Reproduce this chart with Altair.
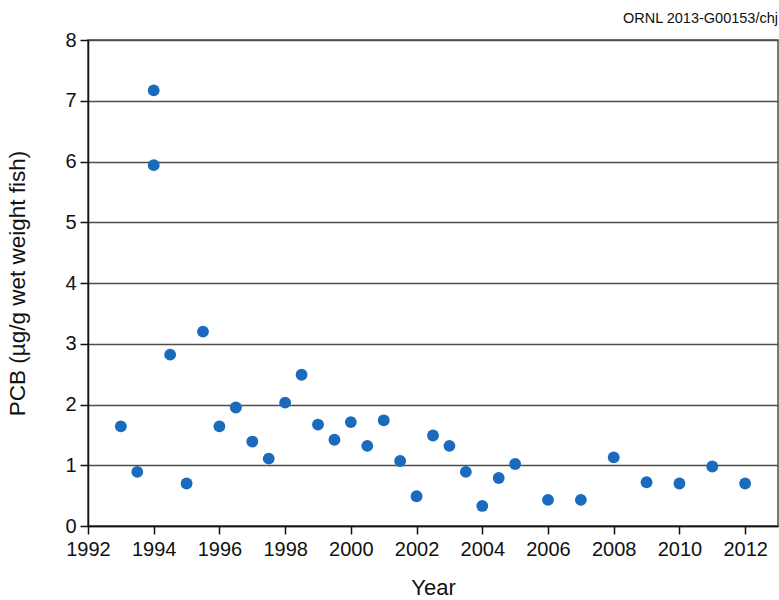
import altair as alt
import pandas as pd

years = [1993, 1993.5, 1994, 1994, 1994.5, 1995, 1995.5, 1996, 1996.5, 1997, 1997.5,
         1998, 1998.5, 1999, 1999.5, 2000, 2000.5, 2001, 2001.5, 2002, 2002.5, 2003,
         2003.5, 2004, 2004.5, 2005, 2006, 2007, 2008, 2009, 2010, 2011, 2012]
pcb = [1.64, 0.89, 7.17, 5.94, 2.82, 0.70, 3.20, 1.64, 1.95, 1.39, 1.11,
       2.03, 2.49, 1.67, 1.42, 1.71, 1.32, 1.74, 1.07, 0.49, 1.49, 1.32,
       0.89, 0.33, 0.79, 1.02, 0.43, 0.43, 1.13, 0.72, 0.70, 0.98, 0.70]

x_ticks = list(range(1992, 2013, 2))
y_ticks = list(range(0, 9))

df = pd.DataFrame({"Year": years, "PCB": pcb})

FONT = "Liberation Sans"

chart = alt.Chart(df).mark_circle(size=140, opacity=1, color="#1a6bbd").encode(
    x=alt.X("Year:Q",
            scale=alt.Scale(domain=[1992, 2013], nice=False, zero=False),
            axis=alt.Axis(values=x_ticks, format="d", grid=False, title="Year",
                          tickSize=8, labelPadding=5, titlePadding=18,
                          labelFontSize=20, titleFontSize=22, labelColor="#111",
                          titleColor="#111", domainColor="#111", tickColor="#111",
                          domainWidth=1.5, tickWidth=1.5, titleFontWeight="normal",
                          labelFont=FONT, titleFont=FONT, labelFlush=False)),
    y=alt.Y("PCB:Q",
            scale=alt.Scale(domain=[0, 8], nice=False),
            axis=alt.Axis(values=y_ticks, grid=True, gridColor="#4d4d4d", gridWidth=1.5,
                          title="PCB (µg/g wet weight fish)",
                          tickSize=8, labelPadding=4, titlePadding=35,
                          labelFontSize=20, titleFontSize=22.5, labelColor="#111",
                          titleColor="#111", domainColor="#111", tickColor="#111",
                          domainWidth=1.5, tickWidth=1.5, titleFontWeight="normal",
                          labelFont=FONT, titleFont=FONT)),
).properties(
    width=690,
    height=486,
    padding={"left": 88, "top": 40, "right": 1, "bottom": 74},
    autosize=alt.AutoSizeParams(type="none"),
    title=alt.TitleParams("ORNL 2013-G00153/chj", anchor="end", fontSize=14.5,
                          font=FONT, fontWeight="normal", color="#111", offset=4),
).configure_view(
    stroke="#4d4d4d", strokeWidth=1.5
)

chart.save("out.html", embed_options={"renderer": "svg", "actions": False})
